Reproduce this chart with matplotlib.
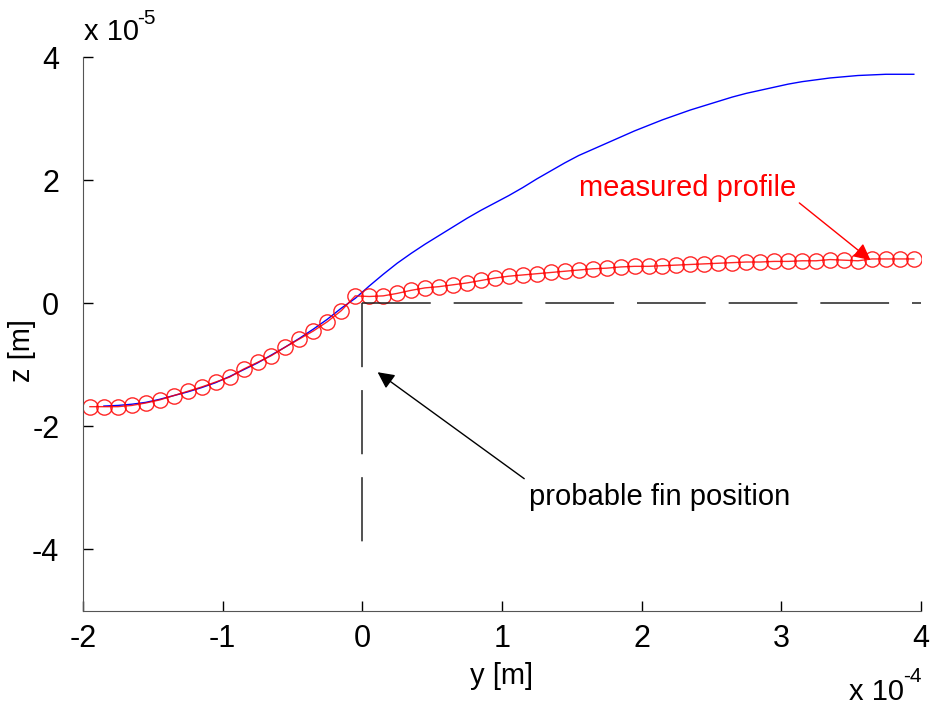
import matplotlib.pyplot as plt

plt.rcParams['font.family'] = ['Liberation Sans', 'DejaVu Sans']

# y positions (x 10^-4 m) and profile heights (x 10^-5 m)
y_meas = [-1.95, -1.85, -1.75, -1.65, -1.55, -1.45, -1.35, -1.25, -1.15, -1.05,
          -0.95, -0.85, -0.75, -0.65, -0.55, -0.45, -0.35, -0.25, -0.15, -0.05,
          0.05, 0.15, 0.25, 0.35, 0.45, 0.55, 0.65, 0.75, 0.85, 0.95,
          1.05, 1.15, 1.25, 1.35, 1.45, 1.55, 1.65, 1.75, 1.85, 1.95,
          2.05, 2.15, 2.25, 2.35, 2.45, 2.55, 2.65, 2.75, 2.85, 2.95,
          3.05, 3.15, 3.25, 3.35, 3.45, 3.55, 3.65, 3.75, 3.85, 3.95]
z_meas = [-1.68, -1.68, -1.68, -1.66, -1.62, -1.57, -1.50, -1.43, -1.36, -1.28,
          -1.20, -1.07, -0.96, -0.85, -0.71, -0.58, -0.45, -0.30, -0.12, 0.12,
          0.11, 0.12, 0.16, 0.21, 0.25, 0.27, 0.30, 0.33, 0.37, 0.41,
          0.44, 0.46, 0.48, 0.50, 0.52, 0.54, 0.56, 0.57, 0.59, 0.60,
          0.60, 0.61, 0.62, 0.63, 0.64, 0.65, 0.66, 0.67, 0.67, 0.68,
          0.68, 0.69, 0.69, 0.71, 0.70, 0.69, 0.72, 0.72, 0.72, 0.72]

y_model = [-1.85, -1.75, -1.65, -1.55, -1.45, -1.35, -1.25, -1.15, -1.05,
           -0.95, -0.85, -0.75, -0.65, -0.55, -0.45, -0.35, -0.25, -0.15, -0.05,
           0.05, 0.15, 0.25, 0.35, 0.45, 0.55, 0.65, 0.75, 0.85, 0.95,
           1.05, 1.15, 1.25, 1.35, 1.45, 1.55, 1.65, 1.75, 1.85, 1.95,
           2.05, 2.15, 2.25, 2.35, 2.45, 2.55, 2.65, 2.75, 2.85, 2.95,
           3.05, 3.15, 3.25, 3.35, 3.45, 3.55, 3.65, 3.75, 3.85, 3.95]
z_model = [-1.67, -1.66, -1.64, -1.61, -1.56, -1.50, -1.44, -1.37, -1.29,
           -1.19, -1.08, -0.97, -0.84, -0.71, -0.57, -0.42, -0.26, -0.08, 0.08,
           0.28, 0.47, 0.65, 0.81, 0.96, 1.10, 1.24, 1.38, 1.51, 1.63,
           1.75, 1.88, 2.02, 2.15, 2.28, 2.40, 2.50, 2.60, 2.70, 2.80,
           2.89, 2.98, 3.06, 3.14, 3.21, 3.28, 3.35, 3.41, 3.46, 3.51,
           3.56, 3.60, 3.63, 3.66, 3.68, 3.70, 3.71, 3.72, 3.72, 3.72]

# fin guide lines
fin_h_y = [0, 4]
fin_h_z = [0, 0]
fin_v_y = [0, 0]
fin_v_z = [0, -4]

xticks = [-2, -1, 0, 1, 2, 3, 4]
yticks = [-4, -2, 0, 2, 4]

fig = plt.figure(figsize=(9.32, 7.13), dpi=100)
ax = fig.add_axes([0.089, 0.143, 0.899, 0.777])

ax.plot(y_model, z_model, color='blue', lw=1)
ax.plot(y_meas, z_meas, 'o-', color='red', mfc='none', mec='red', ms=11,
        lw=1, mew=1, alpha=0.85)
ax.plot(fin_h_y, fin_h_z, color='#222222', lw=1.1, dashes=(45, 15))
ax.plot(fin_v_y, fin_v_z, color='#222222', lw=1.1, dashes=(42, 15))

ax.set_xlim(-2, 4)
ax.set_ylim(-5, 4)
ax.set_xticks(xticks)
ax.set_yticks(yticks)
ax.set_xticklabels([str(t) for t in xticks])
ax.set_yticklabels([str(t) for t in yticks])
ax.tick_params(direction='in', length=7, labelsize=22, width=1)
ax.tick_params(axis='x', pad=9)
ax.tick_params(axis='y', pad=17)
ax.spines['top'].set_visible(False)
ax.spines['right'].set_visible(False)
for s in ['left', 'bottom']:
    ax.spines[s].set_color('#555555')

ax.set_xlabel('y [m]', fontsize=21, labelpad=6)
ax.set_ylabel('z [m]', fontsize=21)
ax.yaxis.set_label_coords(-0.056, 0.47)

# exponent labels
fig.text(0.090, 0.944, 'x 10', fontsize=21)
fig.text(0.147, 0.966, '-5', fontsize=15)
fig.text(0.911, 0.018, 'x 10', fontsize=21)
fig.text(0.969, 0.043, '-4', fontsize=15)

ax.annotate('', xy=(3.64, 0.70), xytext=(3.13, 1.63),
            arrowprops=dict(arrowstyle='-|>', color='red', lw=1,
                            mutation_scale=25, shrinkA=0, shrinkB=0))
ax.text(2.33, 1.87, 'measured profile', color='red', fontsize=21,
        ha='center', va='center')
ax.annotate('', xy=(0.11, -1.12), xytext=(1.16, -2.85),
            arrowprops=dict(arrowstyle='-|>', color='black', lw=1,
                            mutation_scale=25, shrinkA=0, shrinkB=0))
ax.text(2.13, -3.15, 'probable fin position', color='black', fontsize=21,
        ha='center', va='center')

fig.savefig('out.png', dpi=100)
